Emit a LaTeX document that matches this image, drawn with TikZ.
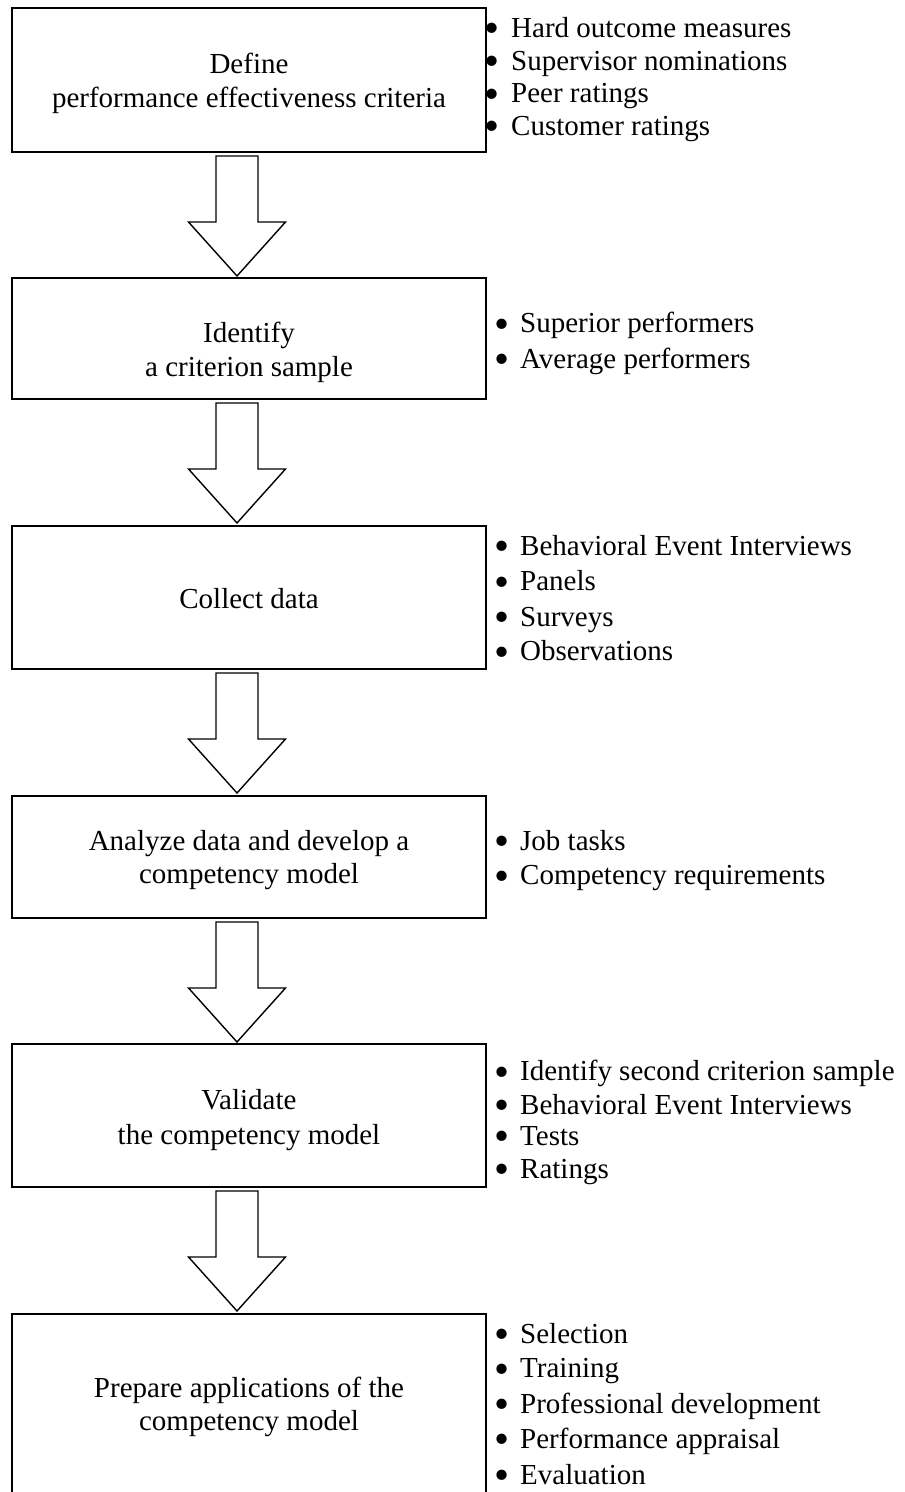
\documentclass[tikz,border=0pt]{standalone}
\usepackage{fontspec}
\setmainfont{Liberation Serif}
\usetikzlibrary{calc}
\newcommand{\bigbul}{\smash{\raisebox{-5.5pt}{\fontsize{43}{43}\selectfont\textbullet}}}
\newcommand{\bul}{\makebox[26pt][l]{\bigbul}}
\newcommand{\bulA}{\makebox[27pt][l]{\bigbul}}
\tikzset{
  stepbox/.style={draw=black, line width=2pt, rectangle, inner sep=0pt, fill=white},
  boxtext/.style={inner sep=0pt, anchor=base, align=center, font=\fontsize{29}{34}\selectfont},
  item/.style={inner sep=0pt, anchor=base west, font=\fontsize{29}{34}\selectfont},
  bigarrow/.style={draw=black, line width=1.4pt, fill=white, line join=miter},
}
\begin{document}
\begin{tikzpicture}[x=1pt,y=-1pt]
\path[use as bounding box, clip] (0,0) rectangle (905,1492);
\fill[white] (0,0) rectangle (905,1492);

% boxes
\node[stepbox, minimum width=474pt, minimum height=144pt] (b1) at (249,80) {};
\node[stepbox, minimum width=474pt, minimum height=121pt] (b2) at (249,338.5) {};
\node[stepbox, minimum width=474pt, minimum height=143pt] (b3) at (249,597.5) {};
\node[stepbox, minimum width=474pt, minimum height=122pt] (b4) at (249,857) {};
\node[stepbox, minimum width=474pt, minimum height=143pt] (b5) at (249,1115.5) {};
\node[stepbox, minimum width=474pt, minimum height=183pt] (b6) at (249,1405.5) {};

% box texts
\node[boxtext] (t1a) at (249,73.5) {Define};
\node[boxtext] (t1b) at (249,107) {performance effectiveness criteria};
\node[boxtext] (t2a) at (249,342) {Identify};
\node[boxtext] (t2b) at (249,376) {a criterion sample};
\node[boxtext] (t3a) at (249,608) {Collect data};
\node[boxtext] (t4a) at (249,850) {Analyze data and develop a};
\node[boxtext] (t4b) at (249,883) {competency model};
\node[boxtext] (t5a) at (249,1109) {Validate};
\node[boxtext] (t5b) at (249,1144) {the competency model};
\node[boxtext] (t6a) at (249,1397) {Prepare applications of the};
\node[boxtext] (t6b) at (249,1430) {competency model};

% bullet lists
\node[item] (l1a) at (484,37) {\bulA Hard outcome measures};
\node[item] (l1b) at (484,70) {\bulA Supervisor nominations};
\node[item] (l1c) at (484,102.5) {\bulA Peer ratings};
\node[item] (l1d) at (484,135) {\bulA Customer ratings};

\node[item] (l2a) at (494,332.5) {\bul Superior performers};
\node[item] (l2b) at (494,368) {\bul Average performers};

\node[item] (l3a) at (494,555) {\bul Behavioral Event Interviews};
\node[item] (l3b) at (494,590.5) {\bul Panels};
\node[item] (l3c) at (494,626) {\bul Surveys};
\node[item] (l3d) at (494,660.5) {\bul Observations};

\node[item] (l4a) at (494,850) {\bul Job tasks};
\node[item] (l4b) at (494,884.5) {\bul Competency requirements};

\node[item] (l5a) at (494,1080.5) {\bul Identify second criterion sample};
\node[item] (l5b) at (494,1114) {\bul Behavioral Event Interviews};
\node[item] (l5c) at (494,1145) {\bul Tests};
\node[item] (l5d) at (494,1178) {\bul Ratings};

\node[item] (l6a) at (494,1343) {\bul Selection};
\node[item] (l6b) at (494,1377.5) {\bul Training};
\node[item] (l6c) at (494,1413) {\bul Professional development};
\node[item] (l6d) at (494,1448) {\bul Performance appraisal};
\node[item] (l6e) at (494,1484) {\bul Evaluation};

% block arrows
\foreach \s/\n in {b1/a1,b2/a2,b3/a3,b4/a4,b5/a5}{
  \coordinate (\n) at ($(\s.south)+(-12,3)$);
  \draw[bigarrow] ($(\n)+(-21,0)$) -- ($(\n)+(21,0)$) -- ($(\n)+(21,66)$)
    -- ($(\n)+(48.5,66)$) -- ($(\n)+(0,120)$) -- ($(\n)+(-48.5,66)$)
    -- ($(\n)+(-21,66)$) -- cycle;
}
\end{tikzpicture}
\end{document}
